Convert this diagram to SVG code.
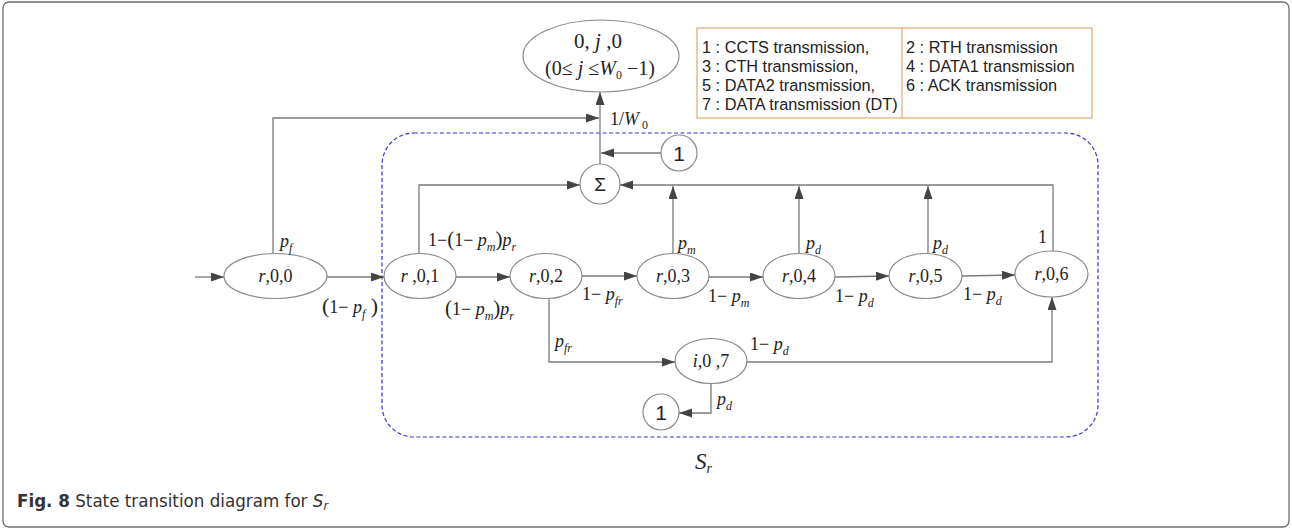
<svg xmlns="http://www.w3.org/2000/svg" width="1292" height="530" viewBox="0 0 1292 530">
  <style>
    .frame { fill: #ffffff; stroke: #6e6e6e; stroke-width: 1.3; }
    .state { fill: #ffffff; stroke: #8a8a8a; stroke-width: 1.2; }
    .wire { fill: none; stroke: #7a7a7a; stroke-width: 1.3; }
    .region { fill: none; stroke: #3333dd; stroke-width: 1.2; stroke-dasharray: 4 2.5; }
    .legend { fill: #ffffff; stroke: #e2b07a; stroke-width: 1.3; }
    .math { font-family: "Liberation Serif", "Times New Roman", serif; font-size: 18px; fill: #222; }
    .it { font-style: italic; }
    .sub { font-size: 12px; }
    .sans { font-family: "Liberation Sans", Arial, sans-serif; fill: #222; }
    .cap { font-family: "Liberation Sans Narrow", "DejaVu Sans Condensed", "Liberation Sans", sans-serif; font-size: 18px; fill: #333; }
  </style>
  <defs>
    <marker id="arrow" markerUnits="userSpaceOnUse" markerWidth="14" markerHeight="10" refX="13" refY="4.5" orient="auto">
      <path d="M0,0 L13,4.5 L0,9 z" fill="#444"/>
    </marker>
  </defs>

  <rect class="frame" x="3" y="2" width="1286" height="525" rx="6"/>

  <!-- dashed region S_r -->
  <rect class="region" x="382" y="133" width="716" height="304" rx="32"/>

  <!-- legend -->
  <g id="legend">
    <rect class="legend" x="697" y="28" width="395" height="90"/>
    <line x1="902" y1="28" x2="902" y2="118" stroke="#e2b07a" stroke-width="1.3"/>
    <g class="sans" style="font-size:16.3px">
      <text x="702" y="53">1 : CCTS transmission,</text>
      <text x="702" y="72">3 : CTH transmission,</text>
      <text x="702" y="91">5 : DATA2 transmission,</text>
      <text x="702" y="110">7 : DATA transmission (DT)</text>
      <text x="906" y="53">2 : RTH transmission</text>
      <text x="906" y="72">4 : DATA1 transmission</text>
      <text x="906" y="91">6 : ACK transmission</text>
    </g>
  </g>

  <!-- connectors -->
  <g id="connectors" class="wire">
    <path d="M195,277 L224,277" marker-end="url(#arrow)"/>
    <path d="M327,277 L384,277" marker-end="url(#arrow)"/>
    <path d="M456,277 L510,277" marker-end="url(#arrow)"/>
    <path d="M582,276 L637,276" marker-end="url(#arrow)"/>
    <path d="M709,277 L763,277" marker-end="url(#arrow)"/>
    <path d="M835,277 L889,276" marker-end="url(#arrow)"/>
    <path d="M962,276 L1015,275" marker-end="url(#arrow)"/>
    <path d="M273,253 L273,118 L599,118" marker-end="url(#arrow)"/>
    <path d="M600,164 L600,92" marker-end="url(#arrow)"/>
    <path d="M661,153 L601,153" marker-end="url(#arrow)"/>
    <path d="M419,253 L419,185 L580,185" marker-end="url(#arrow)"/>
    <path d="M1053,252 L1053,185 L620,185" marker-end="url(#arrow)"/>
    <path d="M673,253 L673,186" marker-end="url(#arrow)"/>
    <path d="M799,253 L799,186" marker-end="url(#arrow)"/>
    <path d="M928,253 L928,186" marker-end="url(#arrow)"/>
    <path d="M549,298 L549,362 L675,362" marker-end="url(#arrow)"/>
    <path d="M747,362 L1052,362 L1052,297" marker-end="url(#arrow)"/>
    <path d="M711,383 L711,413 L679,413" marker-end="url(#arrow)"/>
  </g>

  <!-- nodes -->
  <g id="node-top">
    <ellipse class="state" cx="601" cy="56" rx="78" ry="36"/>
    <text class="math" x="598" y="48" text-anchor="middle" style="font-size:21px">0, <tspan class="it">j</tspan> ,0</text>
    <text class="math" x="600" y="75" text-anchor="middle" style="font-size:20px">(0≤ <tspan class="it">j</tspan> ≤<tspan class="it">W</tspan><tspan style="font-size:12px" dy="4">0</tspan><tspan dy="-4"> −1)</tspan></text>
  </g>
  <g id="node-sum">
    <circle class="state" cx="600" cy="184" r="20"/>
    <text class="sans" x="600" y="191" text-anchor="middle" style="font-size:19px">Σ</text>
  </g>
  <g id="node-one-top">
    <circle class="state" cx="679" cy="153" r="18"/>
    <text class="sans" x="679" y="161" text-anchor="middle" style="font-size:21px">1</text>
  </g>
  <g id="node-r00">
    <ellipse class="state" cx="275.5" cy="276" rx="51.5" ry="22.5"/>
    <text class="math" x="275.5" y="282" text-anchor="middle"><tspan class="it">r</tspan>,0,0</text>
  </g>
  <g id="node-r01">
    <ellipse class="state" cx="420" cy="276" rx="36" ry="22.5"/>
    <text class="math" x="420" y="282" text-anchor="middle"><tspan class="it">r</tspan> ,0,1</text>
  </g>
  <g id="node-r02">
    <ellipse class="state" cx="546" cy="276" rx="36" ry="22.5"/>
    <text class="math" x="546" y="282" text-anchor="middle"><tspan class="it">r</tspan>,0,2</text>
  </g>
  <g id="node-r03">
    <ellipse class="state" cx="673" cy="276" rx="36" ry="22.5"/>
    <text class="math" x="673" y="282" text-anchor="middle"><tspan class="it">r</tspan>,0,3</text>
  </g>
  <g id="node-r04">
    <ellipse class="state" cx="799" cy="276" rx="36" ry="22.5"/>
    <text class="math" x="799" y="282" text-anchor="middle"><tspan class="it">r</tspan>,0,4</text>
  </g>
  <g id="node-r05">
    <ellipse class="state" cx="925.5" cy="276" rx="36.5" ry="22.5"/>
    <text class="math" x="925.5" y="282" text-anchor="middle"><tspan class="it">r</tspan>,0,5</text>
  </g>
  <g id="node-r06">
    <ellipse class="state" cx="1051.5" cy="274" rx="36.5" ry="23"/>
    <text class="math" x="1051.5" y="280" text-anchor="middle"><tspan class="it">r</tspan>,0,6</text>
  </g>
  <g id="node-i07">
    <ellipse class="state" cx="711" cy="361" rx="36" ry="22.5"/>
    <text class="math" x="711" y="367" text-anchor="middle"><tspan class="it">i</tspan>,0 ,7</text>
  </g>
  <g id="node-one-bottom">
    <circle class="state" cx="661" cy="412" r="18"/>
    <text class="sans" x="661" y="420" text-anchor="middle" style="font-size:21px">1</text>
  </g>

  <!-- transition labels -->
  <g id="labels" class="math">
    <text x="610" y="125">1/<tspan class="it">W</tspan><tspan class="sub" dy="4"> 0</tspan></text>
    <text x="280" y="247" class="it">p<tspan class="sub" dy="5">f</tspan></text>
    <text x="322" y="313"><tspan style="font-size:22px">(</tspan>1− <tspan class="it">p</tspan><tspan class="sub it" dy="5">f</tspan><tspan dy="-5" style="font-size:22px"> )</tspan></text>
    <text x="428" y="246">1−<tspan style="font-size:21px">(</tspan>1− <tspan class="it">p</tspan><tspan class="sub it" dy="5">m</tspan><tspan dy="-5" style="font-size:21px">)</tspan><tspan class="it">p</tspan><tspan class="sub it" dy="5">r</tspan></text>
    <text x="445" y="315"><tspan style="font-size:21px">(</tspan>1− <tspan class="it">p</tspan><tspan class="sub it" dy="5">m</tspan><tspan dy="-5" style="font-size:21px">)</tspan><tspan class="it">p</tspan><tspan class="sub it" dy="5">r</tspan></text>
    <text x="582" y="300">1− <tspan class="it">p</tspan><tspan class="sub it" dy="5">fr</tspan></text>
    <text x="678" y="249" class="it">p<tspan class="sub" dy="5">m</tspan></text>
    <text x="806" y="249" class="it">p<tspan class="sub" dy="5">d</tspan></text>
    <text x="933" y="249" class="it">p<tspan class="sub" dy="5">d</tspan></text>
    <text x="1038" y="243">1</text>
    <text x="708" y="302">1− <tspan class="it">p</tspan><tspan class="sub it" dy="5">m</tspan></text>
    <text x="835" y="302">1− <tspan class="it">p</tspan><tspan class="sub it" dy="5">d</tspan></text>
    <text x="963" y="300">1− <tspan class="it">p</tspan><tspan class="sub it" dy="5">d</tspan></text>
    <text x="555" y="347" class="it">p<tspan class="sub" dy="5">fr</tspan></text>
    <text x="750" y="350">1− <tspan class="it">p</tspan><tspan class="sub it" dy="5">d</tspan></text>
    <text x="717" y="405" class="it">p<tspan class="sub" dy="5">d</tspan></text>
  </g>

  <!-- region name -->
  <text class="math it" x="695" y="469" style="font-size:23px">S<tspan style="font-size:14px" dy="4">r</tspan></text>

  <!-- caption -->
  <text class="cap" x="17" y="507" textLength="311" lengthAdjust="spacingAndGlyphs"><tspan font-weight="bold">Fig. 8</tspan> State transition diagram for <tspan font-style="italic">S</tspan><tspan font-style="italic" style="font-size:12px" dy="3">r</tspan></text>
</svg>
